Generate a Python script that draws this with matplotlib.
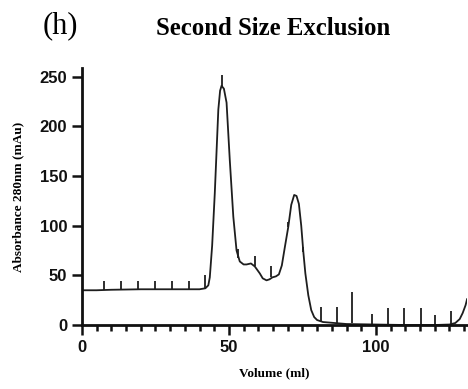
import matplotlib
matplotlib.use("Agg")
import matplotlib.pyplot as plt
from matplotlib.ticker import MultipleLocator

# Elution trace: volume (ml) and absorbance at 280 nm (mAu)
volume = [0, 5, 10, 20, 30, 40, 42, 43, 43.5, 44.3, 45.2, 46.4, 47.0, 47.5, 48.3,
          49.2, 50.3, 51.5, 52.6, 53.7, 55, 56, 57.5, 58.8, 60.5, 61.5, 62.8, 63.8,
          64.8, 66, 67, 68, 69, 70.2, 71.2, 72.2, 73, 73.8, 74.6, 75.3, 76, 77, 78,
          79, 80, 82, 86, 90, 100, 110, 120, 125, 127, 128.5, 129.5, 130.5, 131]
absorbance = [35, 35, 35.5, 36, 36, 36, 37, 40, 48, 80, 133, 217, 236, 241, 238,
              224, 166, 109, 75, 64, 61, 61, 62, 59, 52, 47, 45, 46,
              48, 49, 51, 60, 78, 99, 121, 131, 130, 122, 100, 74, 52, 30, 15,
              8, 5, 3, 2, 1, 0.5, 0, 0, 0.5, 2, 6, 12, 20, 26]

# Fraction collector marks: position, trace level, top of the mark
frac_vol = [7.5, 13.3, 19.0, 24.8, 30.6, 36.4, 41.8, 47.5, 53.0, 58.8, 64.3,
            70.2, 75.3, 81.2, 86.6, 91.9, 98.5, 104.0, 109.5, 115.2, 120.0, 125.7]
frac_base = [35, 35.5, 35.5, 36, 36, 36, 36.5, 241, 68, 59, 48,
             99, 74, 4, 2.5, 2, 0.5, 0.5, 0.3, 0, 0, 0.5]
frac_top = [44, 44, 44, 44, 44, 44, 50, 252, 77, 70, 59,
            104, 79, 18, 18.5, 33, 11, 17, 17, 17, 10, 14]

x_ticks = [0, 50, 100]
y_ticks = [0, 50, 100, 150, 200, 250]

fig = plt.figure(figsize=(4.68, 3.89), dpi=100)
ax = fig.add_axes([0.175, 0.1645, 0.823, 0.661])

line_color = "#1e1e1e"
ax.plot(volume, absorbance, color=line_color, lw=1.3, solid_joinstyle="round")
ax.vlines(frac_vol, frac_base, frac_top, color=line_color, lw=1.3)

ax.set_xlim(0, 131)
ax.set_ylim(0, 259)
ax.set_xticks(x_ticks)
ax.set_yticks(y_ticks)
ax.xaxis.set_minor_locator(MultipleLocator(5))

for side in ("top", "right"):
    ax.spines[side].set_visible(False)
for side in ("left", "bottom"):
    ax.spines[side].set_linewidth(2.0)
    ax.spines[side].set_color("#111111")

ax.tick_params(axis="both", which="major", direction="out", length=7.5,
               width=1.8, color="#111111", pad=3)
ax.tick_params(axis="x", which="minor", direction="out", length=4.5,
               width=1.8, color="#111111")
for lab in ax.get_xticklabels() + ax.get_yticklabels():
    lab.set_fontfamily("Liberation Sans")
    lab.set_fontweight("bold")
    lab.set_fontsize(12)
    lab.set_color("#111111")

ax.set_xlabel("Volume (ml)", fontfamily="Liberation Serif", fontweight="bold",
              fontsize=9.5, labelpad=9)
ax.set_ylabel("Absorbance 280nm (mAu)", fontfamily="Liberation Serif",
              fontweight="bold", fontsize=9.5, labelpad=11)

fig.text(0.584, 0.928, "Second Size Exclusion", fontfamily="Liberation Serif",
         fontweight="bold", fontsize=17.8, ha="center", va="center")
fig.text(0.128, 0.935, "(h)", fontfamily="Liberation Serif", fontsize=22,
         ha="center", va="center")

fig.savefig("out.png", dpi=100)
